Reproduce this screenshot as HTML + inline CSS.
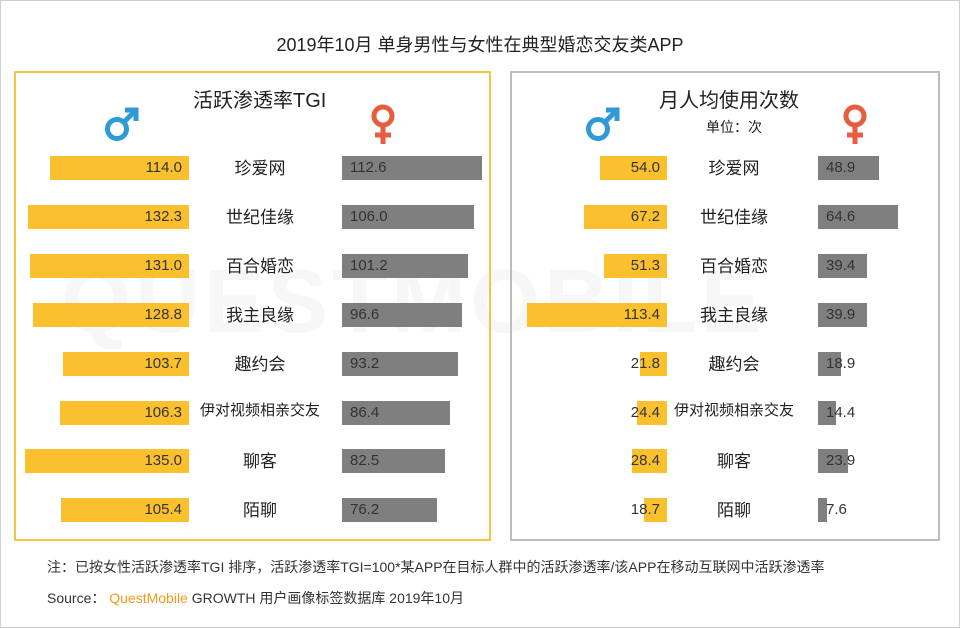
<!DOCTYPE html>
<html><head><meta charset="utf-8">
<style>
body{margin:0;background:#fff;font-family:"Liberation Sans","Noto Sans CJK SC",sans-serif;}
#root{position:relative;width:958px;height:626px;border:1px solid #cfcfcf;overflow:hidden;background:#fff}
.abs{position:absolute}
.t{color:#222;white-space:nowrap}
</style></head><body>
<div id="root">
<div class="abs" style="left:60px;top:250px;font-size:90px;font-weight:bold;color:#f7f7f7;letter-spacing:4px;white-space:nowrap">QUESTMOBILE</div>
<div class="abs t" style="left:0;width:958px;top:30px;text-align:center;font-size:18px">2019年10月 单身男性与女性在典型婚恋交友类APP</div>
<div class="abs" style="left:13px;top:70px;width:473px;height:466px;border:2px solid #f4c542"></div>
<div class="abs" style="left:509px;top:70px;width:426px;height:466px;border:2px solid #bdbdbd"></div>
<div class="abs t" style="left:192px;top:83px;font-size:20px">活跃渗透率TGI</div>
<div class="abs t" style="left:658px;top:83px;font-size:20px">月人均使用次数</div>
<div class="abs t" style="left:705px;top:116px;font-size:14px">单位：次</div>
<svg class="abs" style="left:102px;top:104px" width="38" height="38" viewBox="0 0 38 38"><circle cx="14" cy="24" r="9.5" fill="none" stroke="#2e9ad6" stroke-width="5"/><path d="M21 17 L32 6 M22 5 H33 V16" fill="none" stroke="#2e9ad6" stroke-width="5"/></svg>
<svg class="abs" style="left:368px;top:103px" width="28" height="42" viewBox="0 0 28 42"><circle cx="14" cy="12" r="9" fill="none" stroke="#e85c42" stroke-width="5"/><path d="M14 21 V40 M6 31 H22" stroke="#e85c42" stroke-width="5"/></svg>
<svg class="abs" style="left:583px;top:104px" width="38" height="38" viewBox="0 0 38 38"><circle cx="14" cy="24" r="9.5" fill="none" stroke="#2e9ad6" stroke-width="5"/><path d="M21 17 L32 6 M22 5 H33 V16" fill="none" stroke="#2e9ad6" stroke-width="5"/></svg>
<svg class="abs" style="left:840px;top:103px" width="28" height="42" viewBox="0 0 28 42"><circle cx="14" cy="12" r="9" fill="none" stroke="#e85c42" stroke-width="5"/><path d="M14 21 V40 M6 31 H22" stroke="#e85c42" stroke-width="5"/></svg>
<div class="abs t" style="left:46px;top:556px;font-size:14px;color:#333">注：已按女性活跃渗透率TGI 排序，活跃渗透率TGI=100*某APP在目标人群中的活跃渗透率/该APP在移动互联网中活跃渗透率</div>
<div class="abs t" style="left:46px;top:587px;font-size:14px;color:#333">Source： <span style="color:#f39a1e">QuestMobile</span> GROWTH 用户画像标签数据库 2019年10月</div>
</div>
<script>
const apps=["珍爱网","世纪佳缘","百合婚恋","我主良缘","趣约会","伊对视频相亲交友","聊客","陌聊"];
const tgiMale=[114.0,132.3,131.0,128.8,103.7,106.3,135.0,105.4];
const tgiFemale=[112.6,106.0,101.2,96.6,93.2,86.4,82.5,76.2];
const useMale=[54.0,67.2,51.3,113.4,21.8,24.4,28.4,18.7];
const useFemale=[48.9,64.6,39.4,39.9,18.9,14.4,23.9,7.6];
const root=document.getElementById('root');
const rowY=i=>155+i*48.9;
const BH=24;
function mk(css,text){const d=document.createElement('div');d.className='abs';d.style.cssText=css;if(text!==undefined)d.textContent=text;root.appendChild(d);return d;}
function panel(male,female,mEnd,fStart,sM,sF,cx,pfx){
  apps.forEach((a,i)=>{
    const y=rowY(i);
    const wm=male[i]*sM;
    const b1=mk(`left:${mEnd-wm}px;top:${y}px;width:${wm}px;height:${BH}px;background:#fbc02d`);
    
    
    const l1=mk(`left:${mEnd-120}px;width:113px;text-align:right;top:${y+3}px;font-size:15px;color:#333`,male[i].toFixed(1));
    
    
    const wf=female[i]*sF;
    const b2=mk(`left:${fStart}px;top:${y}px;width:${wf}px;height:${BH}px;background:#7f7f7f`);
    
    
    const l2=mk(`left:${fStart+8}px;top:${y+3}px;font-size:15px;color:#333`,female[i].toFixed(1));
    
    
    const c=mk(`left:${cx-80}px;width:160px;text-align:center;top:${y-2}px;font-size:${a.length>5?15:17}px;color:#222;white-space:nowrap`,a);
    
    
  });
}
panel(tgiMale,tgiFemale,188,341,1.215,1.245,259,'tgi');
panel(useMale,useFemale,666,817,1.235,1.24,733,'usage');
</script>
</body></html>
